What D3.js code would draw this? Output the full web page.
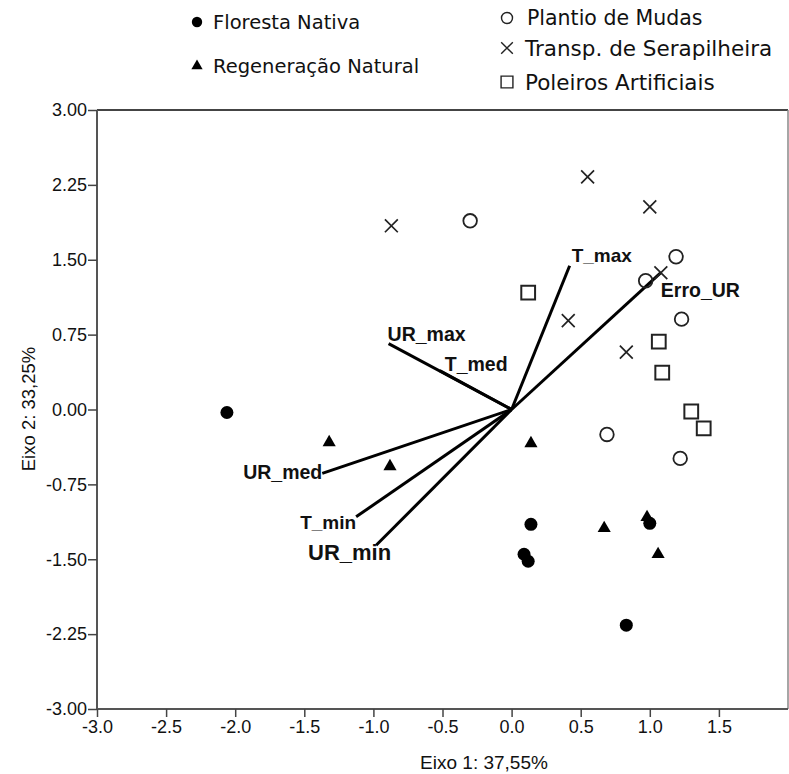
<!DOCTYPE html>
<html>
<head>
<meta charset="utf-8">
<script src="https://cdn.jsdelivr.net/npm/d3@7"></script>
<style>
  html, body { margin: 0; padding: 0; background: #fff; }
  svg { display: block; }
</style>
</head>
<body>
<svg id="chart" width="789" height="774"></svg>
<script>
// ---------------- DATA ----------------
const categories = ["Floresta Nativa", "Regeneração Natural", "Plantio de Mudas", "Transp. de Serapilheira", "Poleiros Artificiais"];

const florestaX = [-2.06, 0.14, 0.09, 0.12, 1.00, 0.83];
const florestaY = [-0.03, -1.15, -1.45, -1.52, -1.14, -2.16];

const regeneracaoX = [-1.32, -0.88, 0.14, 0.67, 0.98, 1.06];
const regeneracaoY = [-0.33, -0.57, -0.34, -1.19, -1.08, -1.45];

const plantioX = [-0.30, 1.19, 0.97, 1.23, 0.69, 1.22];
const plantioY = [1.89, 1.53, 1.29, 0.905, -0.25, -0.49];

const transpX = [-0.87, 0.55, 1.00, 1.08, 0.41, 0.83];
const transpY = [1.84, 2.33, 2.03, 1.37, 0.89, 0.575];

const poleirosX = [0.12, 1.065, 1.09, 1.30, 1.39];
const poleirosY = [1.17, 0.68, 0.37, -0.02, -0.19];

const vectorNames = ["T_max", "Erro_UR", "UR_max", "T_med", "UR_med", "T_min", "UR_min"];
const vectorX = [0.42, 1.08, -0.89, -0.52, -1.37, -1.125, -0.98];
const vectorY = [1.44, 1.37, 0.66, 0.39, -0.64, -1.075, -1.36];

const xTicks = [-3.0, -2.5, -2.0, -1.5, -1.0, -0.5, 0.0, 0.5, 1.0, 1.5];
const yTicks = [3.00, 2.25, 1.50, 0.75, 0.00, -0.75, -1.50, -2.25, -3.00];

const xTitle = "Eixo 1: 37,55%";
const yTitle = "Eixo 2: 33,25%";

// ---------------- STYLE / LAYOUT ----------------
const plot = { left: 97, right: 788, top: 110, bottom: 709 };
// label placement relative to vector tips (style only)
const labelStyle = {
  "T_max":   { dx: 2,  dy: -4, anchor: "start", size: 19 },
  "Erro_UR": { dx: 0,  dy: 24, anchor: "start", size: 19.5 },
  "UR_max":  { dx: -1, dy: -3, anchor: "start", size: 19.5 },
  "T_med":   { dx: 5,  dy: 0,  anchor: "start", size: 19.5 },
  "UR_med":  { dx: 0,  dy: 6,  anchor: "end",   size: 19.5 },
  "T_min":   { dx: 0,  dy: 12, anchor: "end",   size: 19 },
  "UR_min":  { dx: 15, dy: 15, anchor: "end",   size: 22 }
};

const svg = d3.select("#chart");
const x = d3.scaleLinear().domain([-3, 2]).range([plot.left, plot.right]);
const y = d3.scaleLinear().domain([-3, 3]).range([plot.bottom, plot.top]);

const hyphen = f => v => f(v).replace("\u2212", "-");

// frame (top + right)
svg.append("line").attr("x1", plot.left).attr("x2", plot.right).attr("y1", plot.top).attr("y2", plot.top)
  .attr("stroke", "#444").attr("stroke-width", 2);
svg.append("line").attr("x1", plot.right).attr("x2", plot.right).attr("y1", plot.top).attr("y2", plot.bottom)
  .attr("stroke", "#888").attr("stroke-width", 1.5);

// axes
const xAxis = d3.axisBottom(x).tickValues(xTicks).tickFormat(hyphen(d3.format(".1f"))).tickSize(8).tickSizeOuter(0);
const yAxis = d3.axisLeft(y).tickValues(yTicks).tickFormat(hyphen(d3.format(".2f"))).tickSize(9).tickSizeOuter(0);

const gx = svg.append("g").attr("transform", `translate(0,${plot.bottom})`).call(xAxis);
const gy = svg.append("g").attr("transform", `translate(${plot.left},0)`).call(yAxis);
[gx, gy].forEach(g => {
  g.select(".domain").attr("stroke", "#555").attr("stroke-width", 2);
  g.selectAll(".tick line").attr("stroke", "#444").attr("stroke-width", 1.5);
  g.selectAll(".tick text").attr("fill", "#111").style("font-family", "'Liberation Sans', Arial, sans-serif").style("font-size", "18px");
});
gx.select(".domain").attr("d", `M${plot.left},0H${plot.right}`);
gy.select(".domain").attr("d", `M0,${plot.top}V${plot.bottom}`);
gx.selectAll(".tick text").attr("dy", "0.9em").attr("y", 8);
gy.selectAll(".tick text").attr("x", -10);

// axis titles
svg.append("text").attr("x", 484).attr("y", 769).attr("text-anchor", "middle")
  .style("font-family", "'Liberation Sans', Arial, sans-serif").style("font-size", "19px").attr("fill", "#111").text(xTitle);
svg.append("text").attr("transform", "translate(35,409) rotate(-90)").attr("text-anchor", "middle")
  .style("font-family", "'Liberation Sans', Arial, sans-serif").style("font-size", "18.5px").attr("fill", "#111").text(yTitle);

// vectors
const vectors = vectorNames.map((n, i) => ({ name: n, x: vectorX[i], y: vectorY[i] }));
svg.append("g").selectAll("line").data(vectors).join("line")
  .attr("x1", x(0)).attr("y1", y(0))
  .attr("x2", d => x(d.x)).attr("y2", d => y(d.y))
  .attr("stroke", "#000").attr("stroke-width", 3).attr("stroke-linecap", "butt");

svg.append("g").selectAll("text").data(vectors).join("text")
  .attr("x", d => x(d.x) + labelStyle[d.name].dx)
  .attr("y", d => y(d.y) + labelStyle[d.name].dy)
  .attr("text-anchor", d => labelStyle[d.name].anchor)
  .style("font-family", "'Liberation Sans', Arial, sans-serif")
  .style("font-weight", "bold")
  .style("font-size", d => labelStyle[d.name].size + "px")
  .attr("fill", "#111")
  .text(d => d.name);

// symbols
const sym = {
  circleFilled: d3.symbol().type(d3.symbolCircle).size(Math.PI * 6.5 * 6.5),
  triangle: d3.symbol().type(d3.symbolTriangle).size(75),
  circleOpen: d3.symbol().type(d3.symbolCircle).size(Math.PI * 6.8 * 6.8),
  cross: d3.symbol().type(d3.symbolTimes).size(110),
  square: d3.symbol().type(d3.symbolSquare).size(190)
};

function pts(xs, ys) { return xs.map((v, i) => ({ x: v, y: ys[i] })); }

const groups = [
  { name: categories[0], data: pts(florestaX, florestaY), path: sym.circleFilled, fill: "#000", stroke: "none", sw: 0 },
  { name: categories[1], data: pts(regeneracaoX, regeneracaoY), path: sym.triangle, fill: "#000", stroke: "none", sw: 0 },
  { name: categories[2], data: pts(plantioX, plantioY), path: sym.circleOpen, fill: "none", stroke: "#222", sw: 1.8 },
  { name: categories[3], data: pts(transpX, transpY), path: sym.cross, fill: "none", stroke: "#222", sw: 1.7 },
  { name: categories[4], data: pts(poleirosX, poleirosY), path: sym.square, fill: "none", stroke: "#222", sw: 2 }
];

groups.forEach(gr => {
  svg.append("g").selectAll("path").data(gr.data).join("path")
    .attr("d", gr.path())
    .attr("transform", d => `translate(${x(d.x)},${y(d.y)})`)
    .attr("fill", gr.fill).attr("stroke", gr.stroke).attr("stroke-width", gr.sw);
});

// legend
const legendItems = [
  { g: 0, lx: 197, ly: 22, tx: 213, fs: 19.5 },
  { g: 1, lx: 197, ly: 66, tx: 213, fs: 19.5 },
  { g: 2, lx: 507, ly: 18, tx: 527, fs: 20.5 },
  { g: 3, lx: 507, ly: 48, tx: 525, fs: 21.5 },
  { g: 4, lx: 507, ly: 82, tx: 525, fs: 21.5 }
];
const legendSym = [
  d3.symbol().type(d3.symbolCircle).size(Math.PI * 5.2 * 5.2),
  d3.symbol().type(d3.symbolTriangle).size(55),
  d3.symbol().type(d3.symbolCircle).size(Math.PI * 5.5 * 5.5),
  d3.symbol().type(d3.symbolTimes).size(90),
  d3.symbol().type(d3.symbolSquare).size(140)
];
const lg = svg.append("g");
legendItems.forEach(it => {
  const gr = groups[it.g];
  lg.append("path").attr("d", legendSym[it.g]())
    .attr("transform", `translate(${it.lx},${it.ly})`)
    .attr("fill", gr.fill).attr("stroke", gr.stroke === "none" ? "none" : "#222").attr("stroke-width", gr.sw ? 1.4 : 0);
  lg.append("text").attr("x", it.tx).attr("y", it.ly).attr("dy", "0.35em")
    .style("font-family", "'DejaVu Sans', Verdana, sans-serif").style("font-size", it.fs + "px")
    .attr("fill", "#111").text(gr.name);
});
</script>
</body>
</html>
